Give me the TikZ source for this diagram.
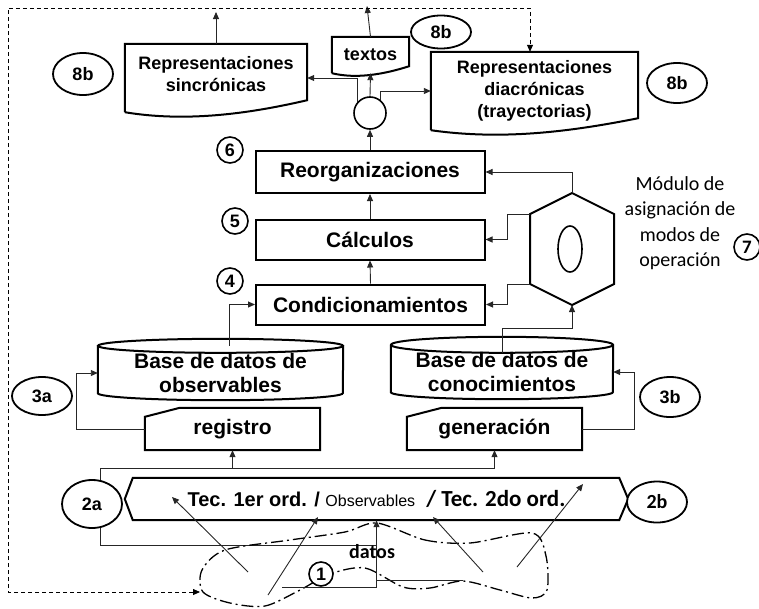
\documentclass[tikz,border=0pt]{standalone}
\usepackage{fontspec}
\setmainfont{Liberation Sans}
\newfontfamily\carl{Carlito}
\usetikzlibrary{arrows.meta,positioning,shapes.geometric}

\begin{document}
\begin{tikzpicture}[x=1pt, y=-1pt,
  shell/.style={line width=2pt},
  box/.style={draw, line width=2pt, minimum width=229pt, minimum height=40pt,
              inner sep=0pt, font=\bfseries\fontsize{21}{24}\selectfont},
  docnode/.style={inner sep=0pt, align=center,
                  font=\bfseries\fontsize{18}{22}\selectfont},
  tag/.style={draw, ellipse, line width=1.8pt, fill=white, minimum width=60pt,
              minimum height=40pt, inner sep=0pt,
              font=\bfseries\fontsize{18}{18}\selectfont},
  num/.style={draw, circle, line width=1.6pt, fill=white, minimum size=26pt,
              inner sep=0pt, font=\bfseries\fontsize{18}{18}\selectfont},
  link/.style={draw=black!85, line width=0.9pt, -{Triangle[length=7pt,width=6pt]}},
  wire/.style={draw=black!85, line width=0.9pt}
]
  \useasboundingbox (0,0) rectangle (759,608);

  % outputs
  \node[docnode, minimum width=182pt, minimum height=68pt] (sincron) at (216,78)
       {Representaciones\\sincrónicas\\[-14pt]};
  \draw[shell] (sincron.south west) -- (sincron.north west) -- (sincron.north east)
       -- ([yshift=12pt]sincron.south east)
       .. controls +(-60pt,-14pt) and +(60pt,-10pt) .. (sincron.south west);
  \node[docnode, minimum width=77pt, minimum height=36pt] (textos) at (370.5,55) {textos};
  \draw[shell] (textos.south west) -- (textos.north west) -- (textos.north east)
       -- ([yshift=7pt]textos.south east)
       .. controls +(-25pt,-8pt) and +(25pt,-6pt) .. (textos.south west);
  \node[docnode, minimum width=207pt, minimum height=78pt] (diacr) at (534.5,91)
       {Representaciones\\diacrónicas\\(trayectorias)};
  \draw[shell] (diacr.south west) -- (diacr.north west) -- (diacr.north east)
       -- ([yshift=12pt]diacr.south east)
       .. controls +(-70pt,-14pt) and +(70pt,-10pt) .. (diacr.south west);

  \node[tag, minimum height=42pt] (t8a) at (83,74)  {8b};
  \node[tag, minimum height=33pt] (t8b) at (441,32) {8b};
  \node[tag] (t8c) at (677,83) {8b};

  \node[draw, circle, line width=1.6pt, minimum size=32pt] (mix) at (370,113) {};

  % processing
  \node[box, minimum height=42pt] (reorg) at (370,172) {Reorganizaciones};
  \node[box] (calc) at (370,239.5) {Cálculos};
  \node[box] (cond) at (370.5,304.5) {Condicionamientos};
  \node[num] (n6) at (230,150) {6};
  \node[num] (n5) at (235,221) {5};
  \node[num] (n4) at (230,281) {4};

  \draw[link] (cond.north) -- (calc.south);
  \draw[link] (calc.north) -- (reorg.south);
  \draw[link] (reorg.north) -- (mix.south);
  \draw[link] (mix.north) -- (textos.south);
  \draw[link] (mix.137) |- (sincron.east);
  \draw[link] (mix.52) |- (diacr.west);

  \coordinate (outA) at (216,12);
  \coordinate (outB) at (367,6);
  \draw[link] (sincron.north) -- (outA);
  \draw[link] (textos.north) -- (outB);

  % module
  \coordinate (hex) at (572,249);
  \draw[shell] (hex) ++(0,-56) coordinate (hextop) -- ++(42,21) -- ++(0,70)
       -- ++(-42,21) coordinate (hexbot) -- ++(-42,-21) coordinate (hexll)
       -- ++(0,-70) coordinate (hexul) -- cycle;
  \node[draw, ellipse, line width=1.6pt, minimum width=24pt, minimum height=46pt]
       (core) at (570,249) {};
  \node[font=\carl\fontsize{20}{25.5}\selectfont, align=center] (modtxt) at (680,223)
       {Módulo de\\asignación de\\modos de\\operación};
  \node[num, font=\carl\bfseries\fontsize{19}{19}\selectfont] (n7) at (747,247) {7};

  \draw[link] (hextop) |- (reorg.east);
  \draw[link] (hexul) -- ++(-23,0) |- (calc.east);
  \draw[link] (hexll) -- ++(-23,0) |- (cond.east);

  % data bases
  \node[docnode, font=\bfseries\fontsize{21}{24}\selectfont,
        minimum width=245pt, minimum height=54pt] (obs) at (220.5,373)
       {Base de datos de\\observables};
  \draw[shell] (obs.north) ellipse[x radius=122.5pt, y radius=7pt];
  \draw[shell] (obs.north west) -- ([yshift=7pt]obs.south west)
       arc[start angle=180, end angle=360, x radius=122.5pt, y radius=7pt]
       -- (obs.north east);
  \node[docnode, font=\bfseries\fontsize{21}{24}\selectfont,
        minimum width=222pt, minimum height=54pt] (know) at (502,372)
       {Base de datos de\\conocimientos};
  \draw[shell] (know.north) ellipse[x radius=111pt, y radius=8pt];
  \draw[shell] (know.north west) -- ([yshift=7pt]know.south west)
       arc[start angle=180, end angle=360, x radius=111pt, y radius=7pt]
       -- (know.north east);

  \draw[link] ([xshift=8.5pt]obs.north) |- (cond.west);
  \draw[link] ([yshift=-8pt]know.north) -- ++(0,-24) -| (hexbot);

  \node[docnode, font=\bfseries\fontsize{21}{24}\selectfont,
        minimum width=175pt, minimum height=42pt] (reg) at (232.5,429) {registro};
  \draw[shell] ([yshift=-9pt]reg.north west) -- ([xshift=35pt]reg.north west)
       -- (reg.north east) -- (reg.south east) -- (reg.south west) -- cycle;
  \node[docnode, font=\bfseries\fontsize{21}{24}\selectfont,
        minimum width=175pt, minimum height=42pt] (gen) at (494.5,429) {generación};
  \draw[shell] ([yshift=-9pt]gen.north west) -- ([xshift=35pt]gen.north west)
       -- (gen.north east) -- (gen.south east) -- (gen.south west) -- cycle;

  \draw[link] (reg.west) -- ++(-68,0) |- (obs.west);
  \draw[link] (gen.east) -- ++(52,0) |- (know.east);
  \node[tag, minimum height=38pt] (t3a) at (42,396)  {3a};
  \node[tag] (t3b) at (670,397) {3b};

  % techniques band
  \node[docnode, font=\bfseries\fontsize{20}{24}\selectfont,
        minimum width=503pt, minimum height=42pt] (tec) at (376.5,499)
       {Tec. 1er ord. / {\mdseries\fontsize{16}{16}\selectfont Observables}\ \
        {\carl\fontsize{23}{23}\selectfont / Tec. 2do ord.}};
  \draw[shell] (tec.west) -- ([xshift=8pt]tec.north west) -- ([xshift=-9pt]tec.north east)
       -- (tec.east) -- ([xshift=-9pt]tec.south east) -- ([xshift=8pt]tec.south west) -- cycle;

  \coordinate (busT) at (100,468);
  \coordinate (busB) at (100,545);
  \draw[wire] (tec.south |- busB) -- (busB) -- (busT);
  \draw[link] (busT) -| (gen.south);
  \draw[link] (reg.south |- busT) -- (reg.south);

  \node[tag, minimum height=48pt] (t2a) at (92,504) {2a};
  \node[tag, minimum height=41pt, font=\carl\bfseries\fontsize{20}{20}\selectfont]
       (t2b) at (657,502) {2b};

  % world
  \draw[line width=1.3pt, dash pattern=on 12pt off 4pt on 2pt off 4pt]
       plot[smooth cycle] coordinates {(377,523) (425,540) (470,543) (532,533)
       (546,556) (547,590) (532,598) (500,590) (463,581) (430,588) (403,587)
       (365,568) (330,574) (300,590) (265,606) (230,603) (203,592) (202,570)
       (225,550) (290,540) (345,532)};

  \coordinate (dL) at (282,587);
  \coordinate (dR) at (463,580);
  \draw[link] (dL) -| (tec.south);
  \draw[wire] (dR) -- (dR -| tec.south);
  \node[font=\carl\bfseries\fontsize{20}{20}\selectfont] (datos) at (372,552) {datos};
  \node[num, minimum size=24pt] (n1) at (321,574) {1};

  \coordinate (sA) at (248,572); \coordinate (eA) at (172,497);
  \coordinate (sB) at (268,595); \coordinate (eB) at (318,517);
  \coordinate (sC) at (483,572); \coordinate (eC) at (433,517);
  \coordinate (sD) at (517,567); \coordinate (eD) at (583,484);
  \draw[link] (sA) -- (eA);
  \draw[link] (sB) -- (eB);
  \draw[link] (sC) -- (eC);
  \draw[link] (sD) -- (eD);

  % feedback loop
  \coordinate (cloudL) at (200,592);
  \coordinate (loopBL) at (8,592);
  \coordinate (loopTL) at (8,8);
  \coordinate (loopTR) at (530,8);
  \draw[line width=0.8pt, dash pattern=on 4pt off 3pt,
        {Triangle[length=7pt,width=6pt]}-{Triangle[length=7pt,width=6pt]}]
       (cloudL) -- (loopBL) -- (loopTL) -- (loopTR) -- (loopTR |- diacr.north);
\end{tikzpicture}
\end{document}
